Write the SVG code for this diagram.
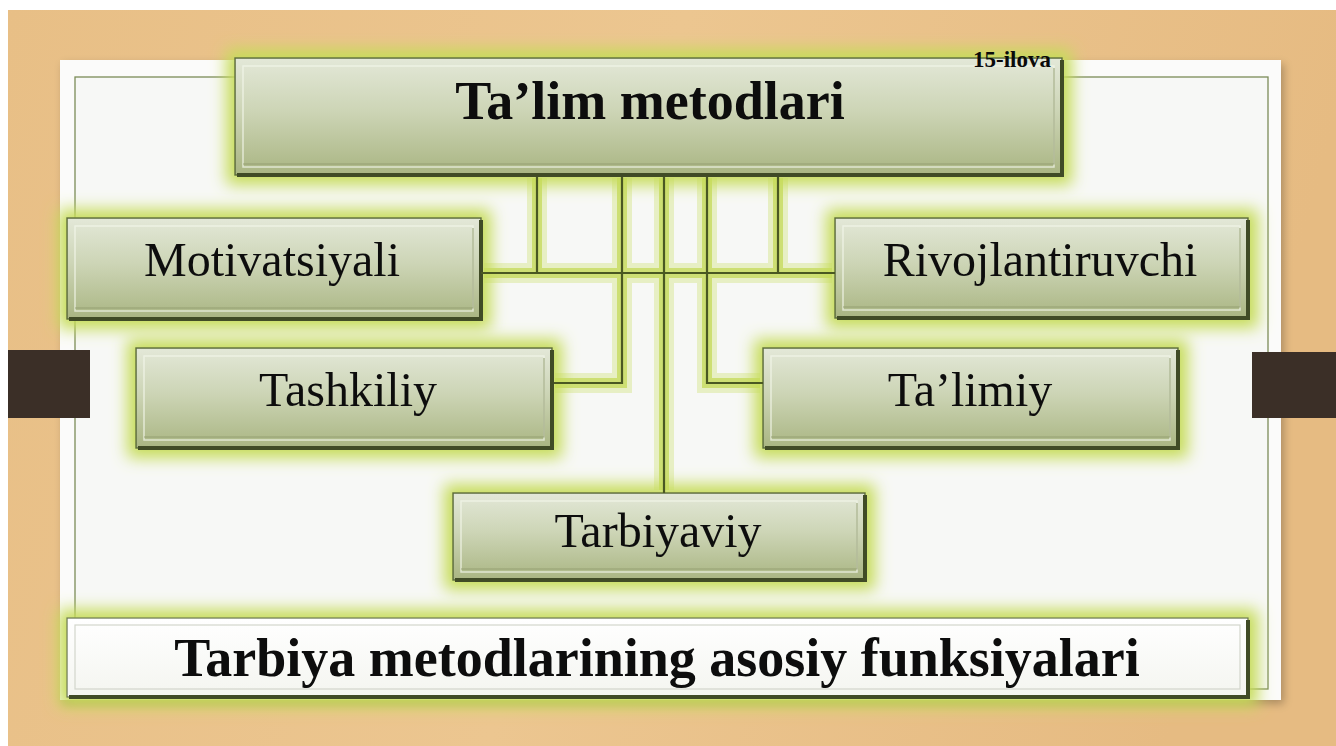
<svg xmlns="http://www.w3.org/2000/svg" width="1336" height="746" viewBox="0 0 1336 746">
<defs>
<linearGradient id="wood" x1="0" y1="0" x2="1" y2="0.15">
<stop offset="0" stop-color="#e8bf86"/>
<stop offset="0.5" stop-color="#ecc690"/>
<stop offset="1" stop-color="#e6bb82"/>
</linearGradient>
<linearGradient id="boxg" x1="0" y1="0" x2="0" y2="1">
<stop offset="0" stop-color="#e3e8d8"/>
<stop offset="0.45" stop-color="#cdd5b6"/>
<stop offset="1" stop-color="#a9b582"/>
</linearGradient>
<linearGradient id="whiteg" x1="0" y1="0" x2="0" y2="1">
<stop offset="0" stop-color="#ffffff"/>
<stop offset="1" stop-color="#f4f5f0"/>
</linearGradient>
<filter id="glow" x="-15%" y="-40%" width="130%" height="180%">
<feMorphology in="SourceAlpha" operator="dilate" radius="8" result="d"/>
<feGaussianBlur in="d" stdDeviation="8" result="b"/>
<feFlood flood-color="#c6dc58"/>
<feComposite in2="b" operator="in" result="g"/>
<feMerge><feMergeNode in="g"/><feMergeNode in="SourceGraphic"/></feMerge>
</filter>
<filter id="pshadow" x="-5%" y="-5%" width="110%" height="112%">
<feGaussianBlur in="SourceAlpha" stdDeviation="4" result="b"/>
<feOffset dx="3" dy="4" result="o"/>
<feFlood flood-color="#000" flood-opacity="0.25"/>
<feComposite in2="o" operator="in" result="s"/>
<feMerge><feMergeNode in="s"/><feMergeNode in="SourceGraphic"/></feMerge>
</filter>
</defs>
<style>
.box{fill:url(#boxg);stroke:#5a6a3c;stroke-width:1.5}
.edge{fill:none;stroke:#3f4b27;stroke-width:4}
.inner{fill:none;stroke:#f2f5ea;stroke-opacity:0.75;stroke-width:1.5}
.innerd{fill:none;stroke:#8e9a6c;stroke-opacity:0.8;stroke-width:1.2}
.lbl{font-family:"Liberation Serif","Times New Roman",serif;font-size:48px;fill:#111;text-anchor:middle}
.bold{font-family:"Liberation Serif","Times New Roman",serif;font-weight:bold;fill:#0a0a0a;text-anchor:middle}
.ln{fill:none;stroke:#4a5822;stroke-width:2.2}
.lg1{fill:none;stroke:#cfe27a;stroke-width:20;stroke-opacity:0.4}
.lg2{fill:none;stroke:#c4da58;stroke-width:10;stroke-opacity:0.75}
</style>

<rect x="0" y="0" width="1336" height="746" fill="#ffffff"/>
<rect x="8" y="10" width="1328" height="736" fill="url(#wood)"/>

<g id="panel">
<rect x="60" y="60" width="1221" height="640" fill="#fbfbfa" filter="url(#pshadow)"/>
<rect x="75" y="77" width="1193" height="612" fill="#f7f8f6" stroke="#7b8b58" stroke-width="1.3"/>
</g>

<rect id="bar-left" x="8" y="350" width="82" height="68" fill="#3b2f27"/>
<rect id="bar-right" x="1252" y="352" width="84" height="66" fill="#3b2f27"/>

<g id="connector-glow">
<path class="lg1" d="M484,273 H832 M537,178 V273 M778,178 V273 M622,178 V383 H555 M707,178 V383 H760 M664,178 V490"/>
<path class="lg2" d="M484,273 H832 M537,178 V273 M778,178 V273 M622,178 V383 H555 M707,178 V383 H760 M664,178 V490"/>
</g>

<g id="title" filter="url(#glow)">
<rect class="box" x="235" y="58" width="827" height="117"/>
<path class="edge" d="M1062,60 V175 H237"/>
<rect class="inner" x="243" y="66" width="811" height="101"/>
<path class="innerd" d="M243,164 H1054 V68"/>
<text class="bold" x="650" y="119" font-size="54">Ta’lim metodlari</text>
</g>
<text id="ilova" class="bold" x="1012" y="67" font-size="23">15-ilova</text>

<g id="motivatsiyali" filter="url(#glow)">
<rect class="box" x="67" y="218" width="414" height="101"/>
<path class="edge" d="M481,220 V319 H69"/>
<rect class="inner" x="75" y="226" width="398" height="85"/>
<path class="innerd" d="M75,308 H473 V228"/>
<text class="lbl" x="272" y="276">Motivatsiyali</text>
</g>

<g id="rivojlantiruvchi" filter="url(#glow)">
<rect class="box" x="835" y="218" width="413" height="100"/>
<path class="edge" d="M1248,220 V318 H837"/>
<rect class="inner" x="843" y="226" width="397" height="84"/>
<path class="innerd" d="M843,307 H1240 V228"/>
<text class="lbl" x="1040" y="276">Rivojlantiruvchi</text>
</g>

<g id="tashkiliy" filter="url(#glow)">
<rect class="box" x="136" y="348" width="416" height="100"/>
<path class="edge" d="M552,350 V448 H138"/>
<rect class="inner" x="144" y="356" width="400" height="84"/>
<path class="innerd" d="M144,437 H544 V358"/>
<text class="lbl" x="348" y="406">Tashkiliy</text>
</g>

<g id="talimiy" filter="url(#glow)">
<rect class="box" x="763" y="348" width="415" height="100"/>
<path class="edge" d="M1178,350 V448 H765"/>
<rect class="inner" x="771" y="356" width="399" height="84"/>
<path class="innerd" d="M771,437 H1170 V358"/>
<text class="lbl" x="970" y="406">Ta’limiy</text>
</g>

<g id="tarbiyaviy" filter="url(#glow)">
<rect class="box" x="453" y="493" width="412" height="87"/>
<path class="edge" d="M865,495 V580 H455"/>
<rect class="inner" x="461" y="501" width="396" height="71"/>
<path class="innerd" d="M461,569 H857 V503"/>
<text class="lbl" x="658" y="547">Tarbiyaviy</text>
</g>

<g id="footer" filter="url(#glow)">
<rect x="67" y="618" width="1181" height="79" fill="url(#whiteg)" stroke="#6d7a55" stroke-width="1.3"/>
<path class="edge" d="M1248,620 V697 H69" stroke="#4a4f44"/>
<rect x="75" y="625" width="1165" height="64" fill="none" stroke="#d2d6cc" stroke-width="1.2"/>
<text class="bold" x="657" y="676" font-size="54">Tarbiya metodlarining asosiy funksiyalari</text>
</g>

<g id="connectors">
<path class="ln" d="M481,273 H835"/>
<path class="ln" d="M537,177 V273"/>
<path class="ln" d="M778,177 V273"/>
<path class="ln" d="M622,177 V383 H554"/>
<path class="ln" d="M707,177 V383 H763"/>
<path class="ln" d="M664,177 V493"/>
</g>
</svg>
